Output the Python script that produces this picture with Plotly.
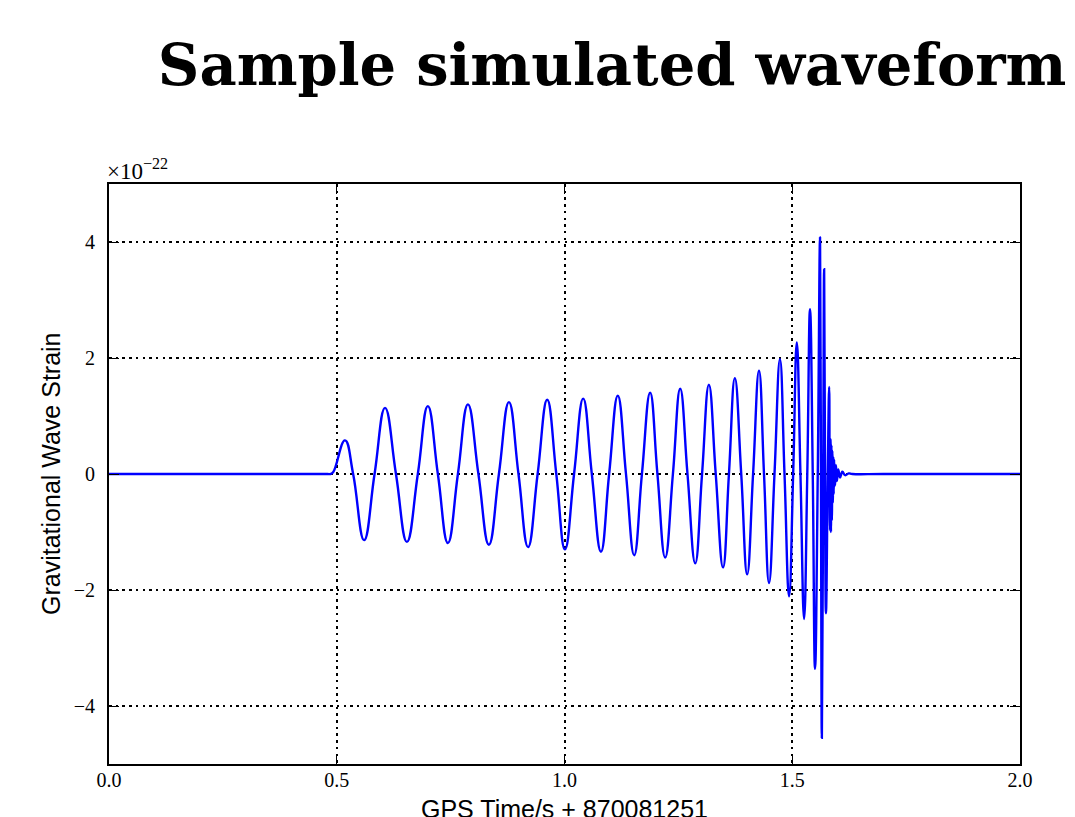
import plotly.graph_objects as go

# Time (s, offset from GPS 870081251) and strain (units of 1e-22)
time_s = [0.000, 0.250, 0.450, 0.480, 0.486, 0.492, 0.518, 0.536, 0.560, 0.583,
          0.606, 0.630, 0.654, 0.678, 0.700, 0.722, 0.744, 0.766, 0.788, 0.811,
          0.834, 0.856, 0.878, 0.899, 0.920, 0.941, 0.962, 0.982, 1.001, 1.021,
          1.041, 1.060, 1.080, 1.098, 1.117, 1.135, 1.153, 1.170, 1.188, 1.204,
          1.221, 1.238, 1.254, 1.270, 1.287, 1.302, 1.317, 1.332, 1.348, 1.361,
          1.374, 1.388, 1.401, 1.414, 1.427, 1.438, 1.449, 1.461, 1.473, 1.483,
          1.493, 1.502, 1.510, 1.518, 1.526, 1.533, 1.539, 1.545, 1.550, 1.556,
          1.561, 1.563, 1.565, 1.568, 1.570, 1.572, 1.574, 1.578, 1.581, 1.582,
          1.583, 1.584, 1.585, 1.586, 1.587, 1.588, 1.589, 1.590, 1.591, 1.592,
          1.594, 1.596, 1.598, 1.601, 1.605, 1.610, 1.616, 1.624, 1.632, 1.700,
          1.850, 2.000]
strain = [0.00, 0.00, 0.00, 0.00, 0.00, 0.03, 0.58, 0.00, -1.14, 0.00,
          1.14, 0.00, -1.17, 0.00, 1.17, 0.00, -1.19, 0.00, 1.20, 0.00,
          -1.22, 0.00, 1.24, 0.00, -1.26, 0.00, 1.28, 0.00, -1.30, 0.00,
          1.30, 0.00, -1.34, 0.00, 1.35, 0.00, -1.40, 0.00, 1.40, 0.00,
          -1.44, 0.00, 1.47, 0.00, -1.54, 0.00, 1.54, 0.00, -1.61, 0.00,
          1.65, 0.00, -1.73, 0.00, 1.78, 0.00, -1.88, 0.00, 1.98, 0.00,
          -2.11, 0.00, 2.27, 0.00, -2.50, 0.00, 2.84, 0.00, -3.36, 0.00,
          4.08, 0.00, -4.55, 0.00, 3.53, 0.00, -2.40, 0.00, 1.50, 0.00,
          -0.97, 0.60, -1.00, 0.50, -0.80, 0.40, -0.50, 0.30, -0.35, 0.25,
          -0.20, 0.15, -0.12, 0.08, -0.06, 0.04, -0.02, 0.01, 0.00, 0.00,
          0.00, 0.00]

x_ticks = [0.0, 0.5, 1.0, 1.5, 2.0]
x_tick_text = ["0.0", "0.5", "1.0", "1.5", "2.0"]
y_ticks = [-4, -2, 0, 2, 4]
y_tick_text = ["\u22124", "\u22122", "0", "2", "4"]

serif = "Liberation Serif"
sans = "Liberation Sans"

fig = go.Figure()
fig.add_trace(go.Scatter(
    x=time_s, y=strain, mode="lines",
    line=dict(color="#0000ff", width=2.4, shape="spline", smoothing=1.3),
    showlegend=False, hoverinfo="x+y"))

axis_common = dict(
    showline=True, linecolor="black", linewidth=2, mirror="ticks",
    ticks="inside", ticklen=10, tickwidth=1.2, tickcolor="black",
    showgrid=True, gridcolor="black", griddash="2.5px,4.2px", gridwidth=1.8,
    zeroline=False, tickfont=dict(family=serif, size=20, color="black"),
)

fig.update_xaxes(range=[0, 2], tickvals=x_ticks, ticktext=x_tick_text,
                 ticklabelstandoff=-3, **axis_common)
fig.update_yaxes(range=[-5, 5], tickvals=y_ticks, ticktext=y_tick_text,
                 ticklabelstandoff=8, **axis_common)

fig.update_layout(
    width=1075, height=817,
    margin=dict(l=101, r=63, t=176, b=61, autoexpand=False),
    paper_bgcolor="white", plot_bgcolor="white",
    title=dict(text="<b>Sample simulated waveform</b>", x=0.562, xanchor="center",
               y=0.930, yanchor="middle", xref="container",
               font=dict(family="DejaVu Serif", size=57.5, color="black")),
    annotations=[
        dict(text="\u00d710<sup>\u221222</sup>", xref="paper", yref="paper",
             x=0.0, y=1.0, xanchor="left", yanchor="bottom", yshift=-2, xshift=-4,
             showarrow=False, font=dict(family=serif, size=23, color="black")),
        dict(text="GPS Time/s + 870081251", xref="paper", yref="paper",
             x=0.5, y=0, xanchor="center", yanchor="middle", yshift=-45,
             showarrow=False, font=dict(family=sans, size=25, color="black")),
        dict(text="Gravitational Wave Strain", xref="paper", yref="paper",
             x=0, y=0.5, xanchor="center", yanchor="middle", xshift=-58, textangle=-90,
             showarrow=False, font=dict(family=sans, size=25, color="black")),
    ],
)

fig.write_html("out.html")
